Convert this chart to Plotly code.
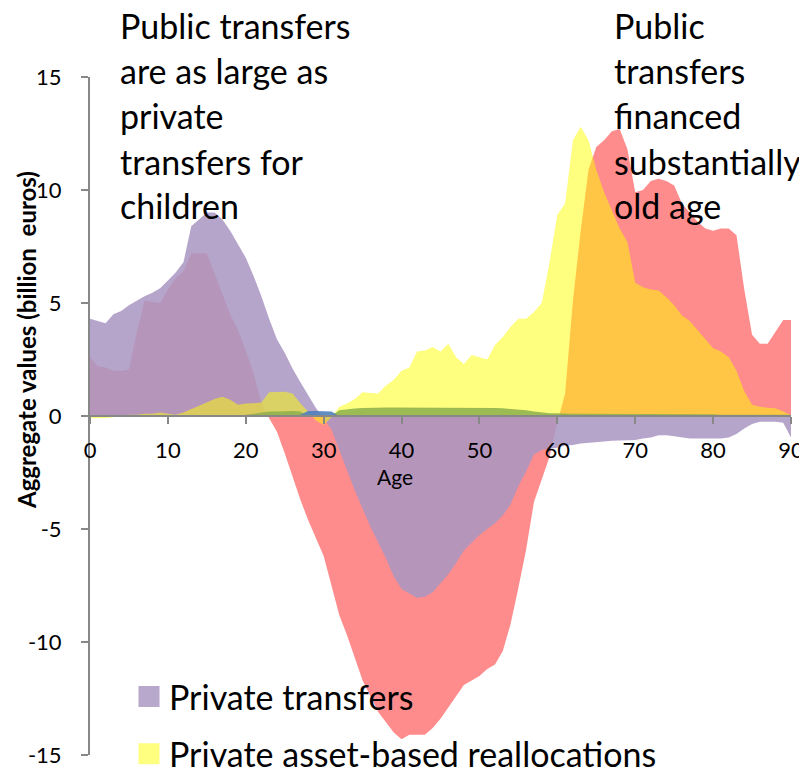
import plotly.graph_objects as go

ages = list(range(0, 91))

public_transfers = [
    2.6, 2.2, 2.15, 2.0, 2.0, 2.05, 3.7, 5.1, 5.05, 5.0,
    5.6, 6.1, 6.4, 7.2, 7.2, 7.2, 6.3, 5.4, 4.5, 3.8,
    2.9, 1.9, 0.6, -0.1, -0.7, -1.65, -2.7, -3.7, -4.6, -5.4,
    -6.2, -7.5, -8.8, -9.7, -10.7, -11.7, -12.4, -13.1, -13.55, -14.0,
    -14.3, -14.1, -14.1, -14.1, -13.8, -13.4, -12.9, -12.4, -11.9, -11.7,
    -11.5, -11.2, -11.0, -10.4, -9.2, -7.6, -5.9, -3.8, -2.8, -1.8,
    -0.3, 1.0, 5.1, 8.2, 10.9, 11.9, 12.2, 12.6, 12.7, 11.8,
    9.9, 10.0, 10.4, 10.5, 10.4, 10.2, 9.4, 9.0, 8.6, 8.3,
    8.2, 8.3, 8.3, 8.0, 5.6, 3.6, 3.2, 3.2, 3.7, 4.25,
    4.25,
]

private_transfers = [
    4.3, 4.2, 4.1, 4.5, 4.65, 4.9, 5.1, 5.3, 5.45, 5.65,
    6.0, 6.35, 6.8, 8.4, 8.7, 9.0, 9.0, 8.7, 8.2, 7.6,
    7.0, 6.2, 5.3, 4.3, 3.4, 2.8, 2.1, 1.5, 0.9, 0.35,
    -0.1, -0.6, -1.5, -2.4, -3.3, -4.1, -4.9, -5.6, -6.3, -7.1,
    -7.65, -7.85, -8.05, -8.0, -7.8, -7.4, -7.0, -6.5, -5.95, -5.6,
    -5.27, -5.0, -4.75, -4.4, -3.9, -3.1, -2.45, -1.7, -1.5, -1.45,
    -1.4, -1.3, -1.28, -1.22, -1.18, -1.15, -1.13, -1.1, -1.08, -1.06,
    -1.06, -1.0, -0.95, -0.85, -0.85, -0.9, -0.95, -1.0, -1.0, -1.0,
    -1.0, -1.0, -0.95, -0.8, -0.55, -0.35, -0.25, -0.25, -0.25, -0.3,
    -0.95,
]

private_asset_based = [
    -0.1, -0.1, -0.1, -0.05, 0.0, 0.05, 0.05, 0.1, 0.1, 0.15,
    0.1, 0.05, 0.15, 0.3, 0.45, 0.6, 0.75, 0.85, 0.72, 0.5,
    0.55, 0.56, 0.6, 1.05, 1.07, 1.07, 1.0, 0.56, 0.2, -0.2,
    -0.4, -0.05, 0.4, 0.55, 0.75, 1.05, 1.02, 1.0, 1.35, 1.6,
    2.0, 2.15, 2.85, 2.9, 3.05, 2.85, 3.2, 2.6, 2.3, 2.7,
    2.6, 2.5, 3.14, 3.5, 3.95, 4.3, 4.3, 4.6, 5.0, 6.8,
    8.9, 9.4, 12.2, 12.8, 12.2, 10.9, 9.9, 9.1, 8.3, 7.7,
    5.9, 5.7, 5.6, 5.55, 5.25, 4.9, 4.45, 4.2, 3.8, 3.35,
    3.0, 2.85, 2.6, 2.0, 1.1, 0.5, 0.41, 0.37, 0.34, 0.2,
    0.03,
]

public_asset_based = [
    0.0, 0.0, 0.0, 0.0, 0.0, 0.0, 0.0, 0.0, 0.0, 0.0,
    0.0, 0.0, 0.0, 0.0, 0.0, 0.0, 0.0, 0.0, 0.0, 0.0,
    0.05, 0.1, 0.15, 0.2, 0.2, 0.22, 0.22, 0.2, 0.0, 0.0,
    0.0, 0.0, 0.25, 0.3, 0.33, 0.35, 0.37, 0.38, 0.38, 0.38,
    0.38, 0.38, 0.38, 0.38, 0.38, 0.38, 0.38, 0.38, 0.38, 0.38,
    0.38, 0.36, 0.35, 0.34, 0.32, 0.3, 0.25, 0.2, 0.15, 0.12,
    0.12, 0.1, 0.1, 0.1, 0.1, 0.1, 0.1, 0.1, 0.1, 0.1,
    0.1, 0.08, 0.08, 0.08, 0.08, 0.08, 0.08, 0.08, 0.08, 0.08,
    0.08, 0.05, 0.05, 0.05, 0.05, 0.05, 0.05, 0.05, 0.05, 0.05,
    0.05,
]

other_reallocations = [0.0] * 27 + [0.05, 0.22, 0.22, 0.22, 0.2, 0.0] + [0.0] * 58

x_ticks = [0, 10, 20, 30, 40, 50, 60, 70, 80, 90]
y_ticks = [-15, -10, -5, 0, 5, 10, 15]

left_note = ["Public transfers", "are as large as", "private", "transfers for", "children"]
right_note = ["Public", "transfers", "financed", "substantially", "old age"]
legend_names = ["Private transfers", "Private asset-based reallocations"]

FONT = "Lato"

# plot area in page pixels (reference): x 90..791, y 77..755
PX0, PX1, PY0, PY1 = 90, 791, 77, 755
PW, PH = PX1 - PX0, PY1 - PY0


def px(xp):
    return (xp - PX0) / PW


def py(yp):
    return (PY1 - yp) / PH


fig = go.Figure()

fig.add_trace(go.Scatter(x=ages, y=public_transfers, fill="tozeroy", mode="lines",
                         line=dict(width=0), fillcolor="rgba(255,0,0,0.45)",
                         showlegend=False, hoverinfo="skip"))
fig.add_trace(go.Scatter(x=ages, y=private_transfers, fill="tozeroy", mode="lines",
                         line=dict(width=0), fillcolor="rgba(170,150,195,0.86)",
                         showlegend=False, hoverinfo="skip"))
fig.add_trace(go.Scatter(x=ages, y=private_asset_based, fill="tozeroy", mode="lines",
                         line=dict(width=0), fillcolor="rgba(255,255,0,0.5)",
                         showlegend=False, hoverinfo="skip"))
fig.add_trace(go.Scatter(x=ages, y=public_asset_based, fill="tozeroy", mode="lines",
                         line=dict(width=0), fillcolor="rgba(140,175,75,0.85)",
                         showlegend=False, hoverinfo="skip"))
fig.add_trace(go.Scatter(x=ages, y=other_reallocations, fill="tozeroy", mode="lines",
                         line=dict(width=0), fillcolor="rgba(79,129,189,0.9)",
                         showlegend=False, hoverinfo="skip"))

# legend entries
fig.add_trace(go.Scatter(x=[None], y=[None], mode="markers", name=legend_names[0],
                         legendgroup="a",
                         marker=dict(symbol="square", size=16, color="#B8A8CC",
                                     line=dict(width=6, color="#B8A8CC"))))
fig.add_trace(go.Scatter(x=[None], y=[None], mode="markers", name=legend_names[1],
                         legendgroup="b",
                         marker=dict(symbol="square", size=16, color="#FFFF80",
                                     line=dict(width=6, color="#FFFF80"))))

annotations = []
centers = [26, 71, 116, 161, 206]
for txt, yy in zip(left_note, centers):
    annotations.append(dict(text=txt, xref="paper", yref="paper",
                            x=px(118), y=py(yy),
                            xanchor="left", yanchor="middle", showarrow=False,
                            font=dict(family=FONT, size=34, color="#000000")))
for txt, yy in zip(right_note, centers):
    annotations.append(dict(text=txt, xref="paper", yref="paper",
                            x=px(612), y=py(yy),
                            xanchor="left", yanchor="middle", showarrow=False,
                            font=dict(family=FONT, size=34, color="#000000")))
annotations.append(dict(text="Aggregate values (billion  euros)", xref="paper", yref="paper",
                        x=px(26), y=py(340), textangle=-90,
                        xanchor="center", yanchor="middle", showarrow=False,
                        font=dict(family=FONT, size=24, color="#000000", weight="bold")))
annotations.append(dict(text="Age", xref="paper", yref="paper",
                        x=px(395), y=py(476),
                        xanchor="center", yanchor="middle", showarrow=False,
                        font=dict(family=FONT, size=21, color="#000000")))

# the page body adds an 8px offset; compensate in the margins
OFF = 8
W, H = 807, 770

fig.update_layout(
    width=W, height=H,
    margin=dict(l=PX0 - OFF, r=W - (PX1 - OFF), t=PY0 - OFF, b=H - (PY1 - OFF),
                autoexpand=False),
    paper_bgcolor="white", plot_bgcolor="white",
    font=dict(family=FONT, color="#000000"),
    showlegend=True,
    legend=dict(x=px(129), y=py(668), xanchor="left", yanchor="top",
                bgcolor="rgba(0,0,0,0)", font=dict(family=FONT, size=34, color="#000000"),
                traceorder="grouped", tracegroupgap=10, itemsizing="trace"),
    annotations=annotations,
    xaxis=dict(range=[0, 90], tickvals=x_ticks, ticktext=[str(v) for v in x_ticks],
               showgrid=False, zeroline=False, showline=True, linecolor="#888888",
               linewidth=2, ticks="outside", ticklen=7, tickwidth=2, tickcolor="#888888",
               anchor="free", position=0.5, automargin=False, ticklabelstandoff=8,
               tickfont=dict(family=FONT, size=22)),
    yaxis=dict(range=[-15, 15], tickvals=y_ticks, ticktext=[str(v) for v in y_ticks],
               showgrid=False, zeroline=False, showline=True, linecolor="#888888",
               linewidth=2, ticks="outside", ticklen=7, tickwidth=2, tickcolor="#888888",
               ticklabelstandoff=15, automargin=False,
               tickfont=dict(family=FONT, size=22)),
)

fig.write_html("out.html")
